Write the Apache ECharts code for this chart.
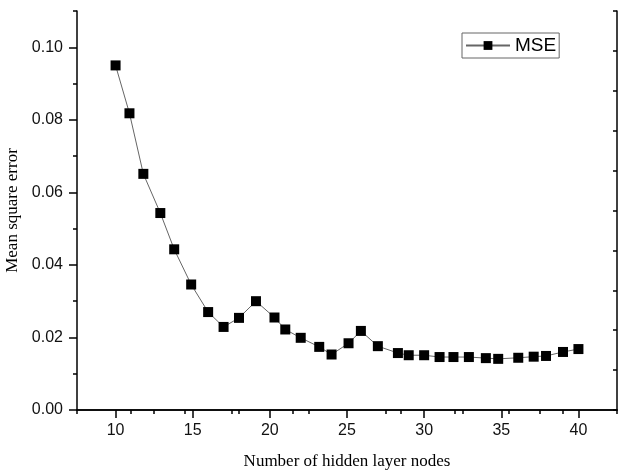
<!DOCTYPE html>
<html>
<head>
<meta charset="utf-8">
<script src="https://cdn.jsdelivr.net/npm/echarts@6/dist/echarts.min.js"></script>
<style>
  html, body { margin: 0; padding: 0; background: #fff; }
  #main { width: 628px; height: 472px; }
</style>
</head>
<body>
<div id="main"></div>
<script>
// hidden layer nodes vs mean square error
var nodes = [10, 10.9, 11.8, 12.9, 13.8, 14.9, 16, 17, 18, 19.1, 20.3, 21, 22, 23.2, 24, 25.1,
  25.9, 27, 28.3, 29, 30, 31, 31.9, 32.9, 34, 34.8, 36.1, 37.1, 37.9, 39, 40];
var mse = [0.0950, 0.0818, 0.0651, 0.0543, 0.0443, 0.0346, 0.0270, 0.0229, 0.0254, 0.0300,
  0.0255, 0.0222, 0.0199, 0.0174, 0.0153, 0.0184, 0.0218, 0.0176, 0.0157, 0.0151, 0.0151,
  0.0146, 0.0146, 0.0146, 0.0143, 0.0141, 0.0144, 0.0147, 0.0149, 0.0160, 0.0168];
var xTicks = [10, 15, 20, 25, 30, 35, 40];
var xMinorTicks = [7.5, 12.5, 17.5, 22.5, 27.5, 32.5, 37.5, 42.5];
var yTicks = [0, 0.02, 0.04, 0.06, 0.08, 0.10];
var yMinorTicks = [0.01, 0.03, 0.05, 0.07, 0.09, 0.11];

var sans = 'Liberation Sans, Arial, sans-serif';
var serif = 'Liberation Serif, Times New Roman, serif';

var myChart = echarts.init(document.getElementById('main'));

var axisLine = { show: true, lineStyle: { color: '#000', width: 1.5 } };

var option = {
  animation: false,
  backgroundColor: '#fff',
  grid: { left: 77, right: 11, top: 11, bottom: 62, outerBoundsMode: 'none', containLabel: false },
  legend: {
    left: 462, top: 33,
    padding: [3, 3, 3, 3],
    borderColor: '#666', borderWidth: 1,
    itemWidth: 44, itemHeight: 11,
    textStyle: { fontFamily: sans, fontSize: 19, color: '#000' },
    data: ['MSE']
  },
  xAxis: [
    {
      type: 'value', position: 'bottom', min: 7.5, max: 42.5,
      name: 'Number of hidden layer nodes', nameLocation: 'middle', nameGap: 43,
      nameTextStyle: { fontFamily: serif, fontSize: 17, color: '#000' },
      axisLine: axisLine,
      axisTick: { show: true, length: 8, lineStyle: { color: '#000', width: 1.5 }, customValues: xTicks },
      axisLabel: { fontFamily: sans, fontSize: 16, color: '#111', margin: 13, customValues: xTicks },
      splitLine: { show: false }
    },
    {
      type: 'value', position: 'bottom', min: 7.5, max: 42.5,
      axisLine: { show: false },
      axisTick: { show: true, length: 4, lineStyle: { color: '#000', width: 1.5 }, customValues: xMinorTicks },
      axisLabel: { show: false },
      splitLine: { show: false }
    },
    {
      type: 'value', position: 'top', min: 0, max: 10, interval: 1,
      axisLine: axisLine,
      axisTick: { show: true, inside: true, length: 4, lineStyle: { color: '#000', width: 1.5 } },
      axisLabel: { show: false },
      splitLine: { show: false }
    }
  ],
  yAxis: [
    {
      type: 'value', position: 'left', min: 0, max: 0.11,
      name: 'Mean square error', nameLocation: 'middle', nameGap: 54, nameRotate: 90,
      nameTextStyle: { fontFamily: serif, fontSize: 17, color: '#000' },
      axisLine: axisLine,
      axisTick: { show: true, length: 8, lineStyle: { color: '#000', width: 1.5 }, customValues: yTicks },
      axisLabel: {
        fontFamily: sans, fontSize: 16, color: '#111', margin: 14, customValues: yTicks,
        formatter: function (v) { return v.toFixed(2); }
      },
      splitLine: { show: false }
    },
    {
      type: 'value', position: 'left', min: 0, max: 0.11,
      axisLine: { show: false },
      axisTick: { show: true, length: 4, lineStyle: { color: '#000', width: 1.5 }, customValues: yMinorTicks },
      axisLabel: { show: false },
      splitLine: { show: false }
    },
    {
      type: 'value', position: 'right', min: 0, max: 10, interval: 1,
      axisLine: axisLine,
      axisTick: { show: true, inside: true, length: 4, lineStyle: { color: '#000', width: 1.5 } },
      axisLabel: { show: false },
      splitLine: { show: false }
    }
  ],
  series: [
    {
      name: 'MSE',
      type: 'line',
      xAxisIndex: 0,
      yAxisIndex: 0,
      data: nodes.map(function (x, i) { return [x, mse[i]]; }),
      symbol: 'rect',
      symbolSize: 10,
      itemStyle: { color: '#000' },
      lineStyle: { color: '#666', width: 1 }
    }
  ]
};

myChart.setOption(option);
</script>
</body>
</html>
